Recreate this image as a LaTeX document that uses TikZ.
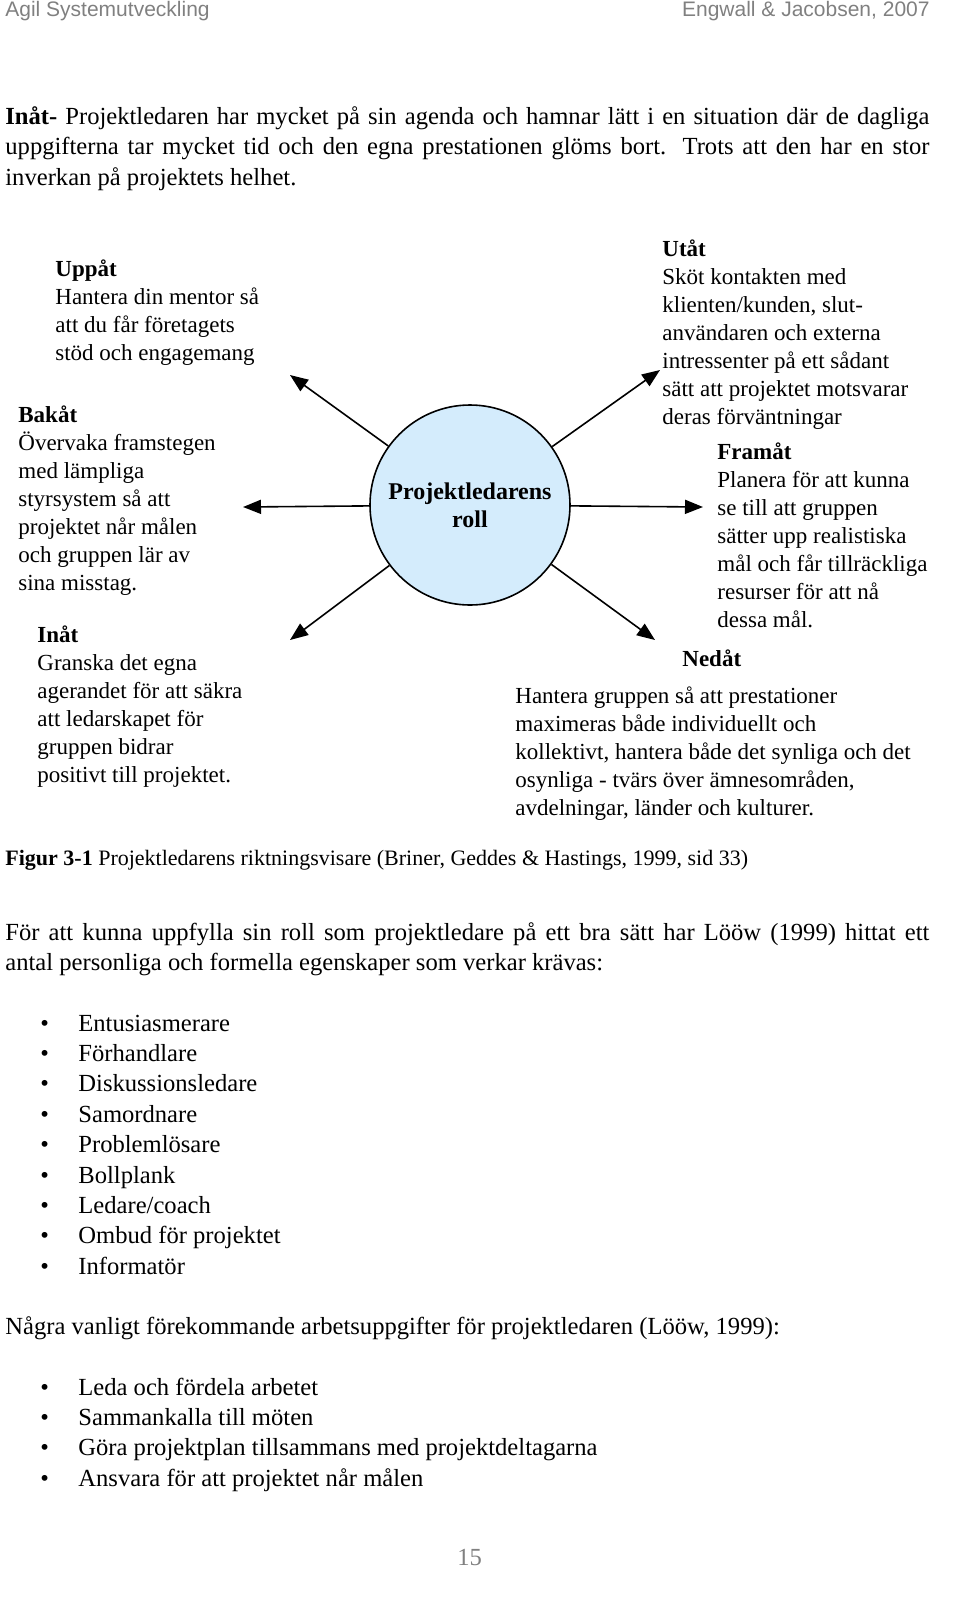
\documentclass[tikz,border=0pt]{standalone}
\usepackage{fontspec}
\setmainfont{Liberation Serif}
\newfontfamily\headfont{Liberation Sans}
\usetikzlibrary{arrows.meta}
\definecolor{rollblue}{RGB}{212,236,252}
\definecolor{headgray}{RGB}{128,128,128}
\tikzset{
  dirtext/.style={anchor=north west,inner sep=0pt,align=left,font=\fontsize{11.5}{14}\selectfont},
  bodytext/.style={anchor=base west,inner sep=0pt,align=left,font=\fontsize{12.3}{15.3}\selectfont},
  dirarrow/.style={-{Triangle[length=9pt,width=7pt]},line width=0.8pt}
}
\begin{document}
\begin{tikzpicture}[x=0.5pt,y=-0.5pt]
\useasboundingbox (0,0) rectangle (960,1613);
% sidhuvud
\node[anchor=base west,inner sep=0pt,text=headgray,font=\headfont\fontsize{10.5}{12}\selectfont] (head1) at (5,16) {Agil Systemutveckling};
\node[anchor=base east,inner sep=0pt,text=headgray,font=\headfont\fontsize{10.5}{12}\selectfont] (head2) at (930,16) {Engwall \& Jacobsen, 2007};
% inledande stycke
\node[bodytext,text width=462pt,align=justify] (intro) at (5,124) {\textbf{Inåt-} Projektledaren har mycket på sin agenda och hamnar lätt i en situation där de dagliga\linebreak uppgifterna tar mycket tid och den egna prestationen glöms bort. Trots att den har en stor\linebreak inverkan på projektets helhet.};
% figuren
\node[circle,draw,line width=0.8pt,fill=rollblue,minimum size=100pt,align=center,font=\bfseries\fontsize{12}{14}\selectfont] (roll) at (470,505) {Projektledarens\\roll};
\coordinate (ul) at (290,375);
\coordinate (le) at (243,507);
\coordinate (dl) at (290,640);
\coordinate (ur) at (660,370);
\coordinate (ri) at (703,507);
\coordinate (dr) at (655,640);
\foreach \t in {ul,le,dl,ur,ri,dr}
  \draw[dirarrow] (roll) -- (\t);
\node[dirtext] (uppat) at (55,259) {\textbf{Uppåt}\\Hantera din mentor så\\att du får företagets\\stöd och engagemang};
\node[dirtext] (bakat) at (18,405) {\textbf{Bakåt}\\Övervaka framstegen\\med lämpliga\\styrsystem så att\\projektet når målen\\och gruppen lär av\\sina misstag.};
\node[dirtext] (inat) at (37,625) {\textbf{Inåt}\\Granska det egna\\agerandet för att säkra\\att ledarskapet för\\gruppen bidrar\\positivt till projektet.};
\node[dirtext] (utat) at (662,239) {\textbf{Utåt}\\Sköt kontakten med\\klienten/kunden, slut-\\användaren och externa\\intressenter på ett sådant\\sätt att projektet motsvarar\\deras förväntningar};
\node[dirtext] (framat) at (717,442) {\textbf{Framåt}\\Planera för att kunna\\se till att gruppen\\sätter upp realistiska\\mål och får tillräckliga\\resurser för att nå\\dessa mål.};
\node[dirtext] (nedat) at (682,649) {\textbf{Nedåt}};
\node[dirtext] (nedattext) at (515,686) {Hantera gruppen så att prestationer\\maximeras både individuellt och\\kollektivt, hantera både det synliga och det\\osynliga - tvärs över ämnesområden,\\avdelningar, länder och kulturer.};
% figurtext
\node[bodytext,font=\fontsize{11}{14}\selectfont] (caption) at (5,865) {\textbf{Figur 3-1} Projektledarens riktningsvisare (Briner, Geddes \& Hastings, 1999, sid 33)};
\node[bodytext,text width=462pt,align=justify] (para) at (5,940) {För att kunna uppfylla sin roll som projektledare på ett bra sätt har Lööw (1999) hittat ett\linebreak antal personliga och formella egenskaper som verkar krävas:};
\foreach \item [count=\i from 0] in {Entusiasmerare,Förhandlare,Diskussionsledare,Samordnare,Problemlösare,Bollplank,Ledare/coach,Ombud för projektet,Informatör}{
  \node[bodytext] (b\i) at (40,1031+30.4*\i) {\textbullet};
  \node[bodytext] (item\i) at (78,1031+30.4*\i) {\item};
}
\node[bodytext] (tasks) at (5,1334) {Några vanligt förekommande arbetsuppgifter för projektledaren (Lööw, 1999):};
\foreach \item [count=\i from 0] in {Leda och fördela arbetet,Sammankalla till möten,Göra projektplan tillsammans med projektdeltagarna,Ansvara för att projektet når målen}{
  \node[bodytext] (tb\i) at (40,1395+30.4*\i) {\textbullet};
  \node[bodytext] (task\i) at (78,1395+30.4*\i) {\item};
}
\node[bodytext,text=headgray] (pagenum) at (457,1565) {15};
\end{tikzpicture}
\end{document}
